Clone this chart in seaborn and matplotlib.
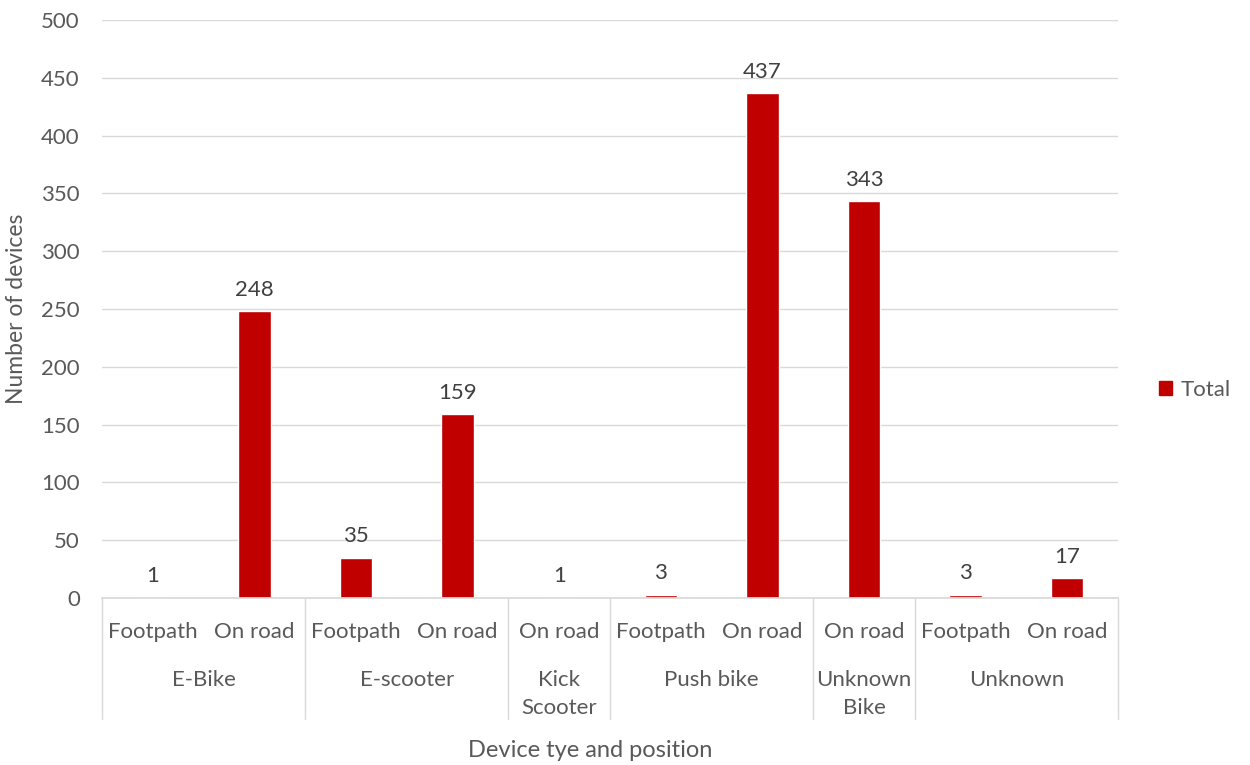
import matplotlib
matplotlib.use("Agg")
import matplotlib.pyplot as plt
import matplotlib.transforms as mtransforms
from matplotlib.patches import Patch
import seaborn as sns
import pandas as pd

groups = ["E-Bike", "E-Bike", "E-scooter", "E-scooter", "Kick\nScooter",
          "Push bike", "Push bike", "Unknown\nBike", "Unknown", "Unknown"]
positions = ["Footpath", "On road", "Footpath", "On road", "On road",
             "Footpath", "On road", "On road", "Footpath", "On road"]
totals = [1, 248, 35, 159, 1, 3, 437, 343, 3, 17]
yticks = [0, 50, 100, 150, 200, 250, 300, 350, 400, 450, 500]

sns.set_theme(style="white")
plt.rcParams['font.family'] = ['Lato', 'DejaVu Sans']
txt = "#595959"
fs = 16

df = pd.DataFrame({"key": [f"{i}" for i in range(len(totals))],
                   "group": groups, "position": positions, "total": totals})

fig = plt.figure(figsize=(12.5, 7.65), dpi=100)
ax = fig.add_axes([0.0816, 0.2183, 0.8128, 0.7556])
sns.barplot(data=df, x="key", y="total", color="#C00000", saturation=1,
            width=0.32, ax=ax, errorbar=None)
ax.set_ylim(0, 500)
ax.set_xlim(-0.5, len(totals) - 0.5)
ax.set_yticks(yticks)
ax.set_yticklabels([str(v) for v in yticks], fontsize=fs, color=txt)
ax.yaxis.grid(True, color="#d9d9d9", linewidth=1)
ax.set_axisbelow(True)
for s in ["top", "right", "left"]:
    ax.spines[s].set_visible(False)
ax.spines["bottom"].set_color("#d9d9d9")
ax.tick_params(axis="y", length=0, pad=16)
ax.tick_params(axis="x", length=0)
ax.set_xticks(range(len(totals)))
ax.set_xticklabels(positions, fontsize=fs, color=txt)
ax.tick_params(axis="x", pad=17)
ax.set_xlabel("")
ax.set_ylabel("Number of devices", fontsize=16.5, color=txt, labelpad=10)

for c in ax.containers:
    ax.bar_label(c, labels=[str(v) for v in totals], fontsize=fs, color="#404040", padding=8)

# group labels and separators
trans = mtransforms.blended_transform_factory(ax.transData, ax.transAxes)
ordered = []
for i, g in enumerate(groups):
    if not ordered or ordered[-1][0] != g:
        ordered.append([g, i, i])
    else:
        ordered[-1][2] = i
bounds = [-0.5]
for g, a, b in ordered:
    ax.text((a + b) / 2, -0.125, g, transform=trans, ha="center", va="top",
            fontsize=fs, color=txt, linespacing=1.5)
    bounds.append(b + 0.5)
for bx in bounds:
    ax.plot([bx, bx], [0, -0.21], transform=trans, color="#d9d9d9",
            linewidth=1, clip_on=False)

fig.text(0.472, 0.011, "Device tye and position", fontsize=17, color=txt, ha="center")

fig.legend(handles=[Patch(color="#C00000", label="Total")], loc="center left",
           bbox_to_anchor=(0.911, 0.49), frameon=False, fontsize=fs,
           handlelength=0.6, handleheight=0.6, handletextpad=0.4, labelcolor=txt)

fig.savefig("out.png", dpi=100)
